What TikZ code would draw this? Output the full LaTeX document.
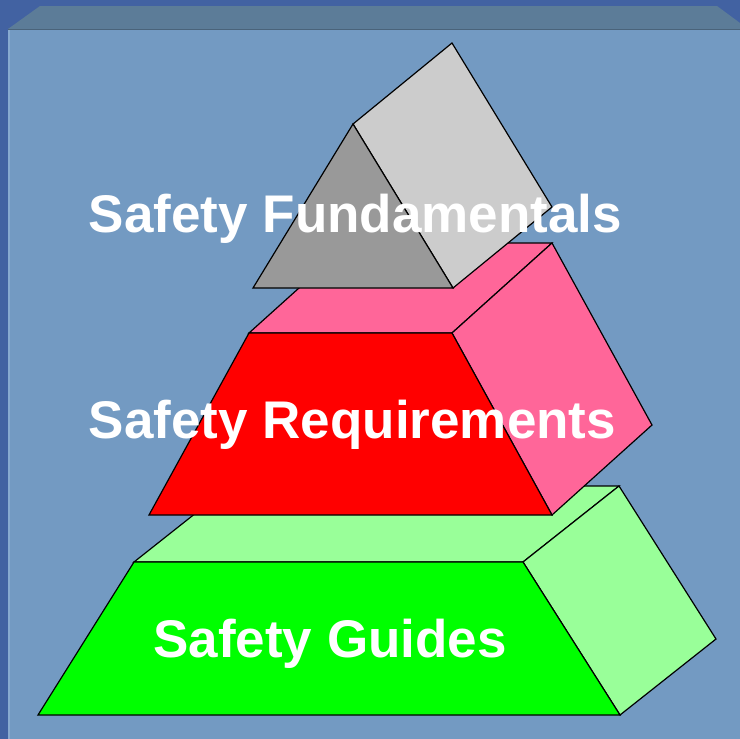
\documentclass[tikz,border=0pt]{standalone}
\usepackage{fontspec}
\setmainfont{Liberation Sans}
\definecolor{outerblue}{HTML}{4262A2}
\definecolor{panelblue}{HTML}{739AC2}
\definecolor{bandblue}{HTML}{5C7C98}
\definecolor{edgelight}{HTML}{88AAD0}
\definecolor{grayfront}{HTML}{999999}
\definecolor{grayside}{HTML}{CCCCCC}
\definecolor{pinkc}{HTML}{FF6699}
\definecolor{redc}{HTML}{FF0000}
\definecolor{lgreen}{HTML}{99FF99}
\definecolor{greenc}{HTML}{00FF00}
\tikzset{
  face/.style={draw=black, line width=1.2pt, line join=miter},
  label/.style={text=white, font=\bfseries\fontsize{53}{60}\selectfont, inner sep=0pt, anchor=base}
}
\begin{document}
\begin{tikzpicture}[x=1pt,y=-1pt]
\useasboundingbox (0,0) rectangle (740,739);
% background
\fill[outerblue] (0,0) rectangle (740,739);
\fill[panelblue] (8,29) rectangle (740,739);
\fill[bandblue] (8,29) -- (40,6) -- (717,6) -- (740,23) -- (740,29) -- cycle;
\fill[edgelight] (8,30) rectangle (10,739);
\draw[bandblue!80!black, line width=1pt] (8,29.5) -- (740,29.5);
% vertices
\coordinate (gbl) at (38,715);  \coordinate (gbr) at (620,715);
\coordinate (gtr) at (523,562); \coordinate (gtl) at (134,562);
\coordinate (gbtr) at (619,486); \coordinate (gbtl) at (230,486);
\coordinate (gbbr) at (716,639);
\coordinate (rbl) at (149,515); \coordinate (rbr) at (552,515);
\coordinate (rtr) at (452,333); \coordinate (rtl) at (249,333);
\coordinate (pbtr) at (552,243); \coordinate (pbtl) at (349,243);
\coordinate (pbbr) at (652,425);
\coordinate (tbl) at (253,288); \coordinate (tbr) at (453,288);
\coordinate (tap) at (353,124);
\coordinate (tbap) at (452,43); \coordinate (tbbr) at (552,207);
% green block
\filldraw[face, fill=lgreen] (gtl) -- (gtr) -- (gbtr) -- (gbtl) -- cycle;
\filldraw[face, fill=lgreen] (gtr) -- (gbtr) -- (gbbr) -- (gbr) -- cycle;
\filldraw[face, fill=greenc] (gbl) -- (gbr) -- (gtr) -- (gtl) -- cycle;
% red block
\filldraw[face, fill=pinkc] (rtl) -- (rtr) -- (pbtr) -- (pbtl) -- cycle;
\filldraw[face, fill=pinkc] (rtr) -- (pbtr) -- (pbbr) -- (rbr) -- cycle;
\filldraw[face, fill=redc] (rbl) -- (rbr) -- (rtr) -- (rtl) -- cycle;
% prism
\filldraw[face, fill=grayside] (tap) -- (tbap) -- (tbbr) -- (tbr) -- cycle;
\filldraw[face, fill=grayfront] (tbl) -- (tbr) -- (tap) -- cycle;
% labels
\node[label] (fund) at (355.5,232) {Safety Fundamentals};
\node[label] (req) at (352.5,438) {Safety Requirements};
\node[label] (guid) at (330,657) {Safety Guides};
\end{tikzpicture}
\end{document}
